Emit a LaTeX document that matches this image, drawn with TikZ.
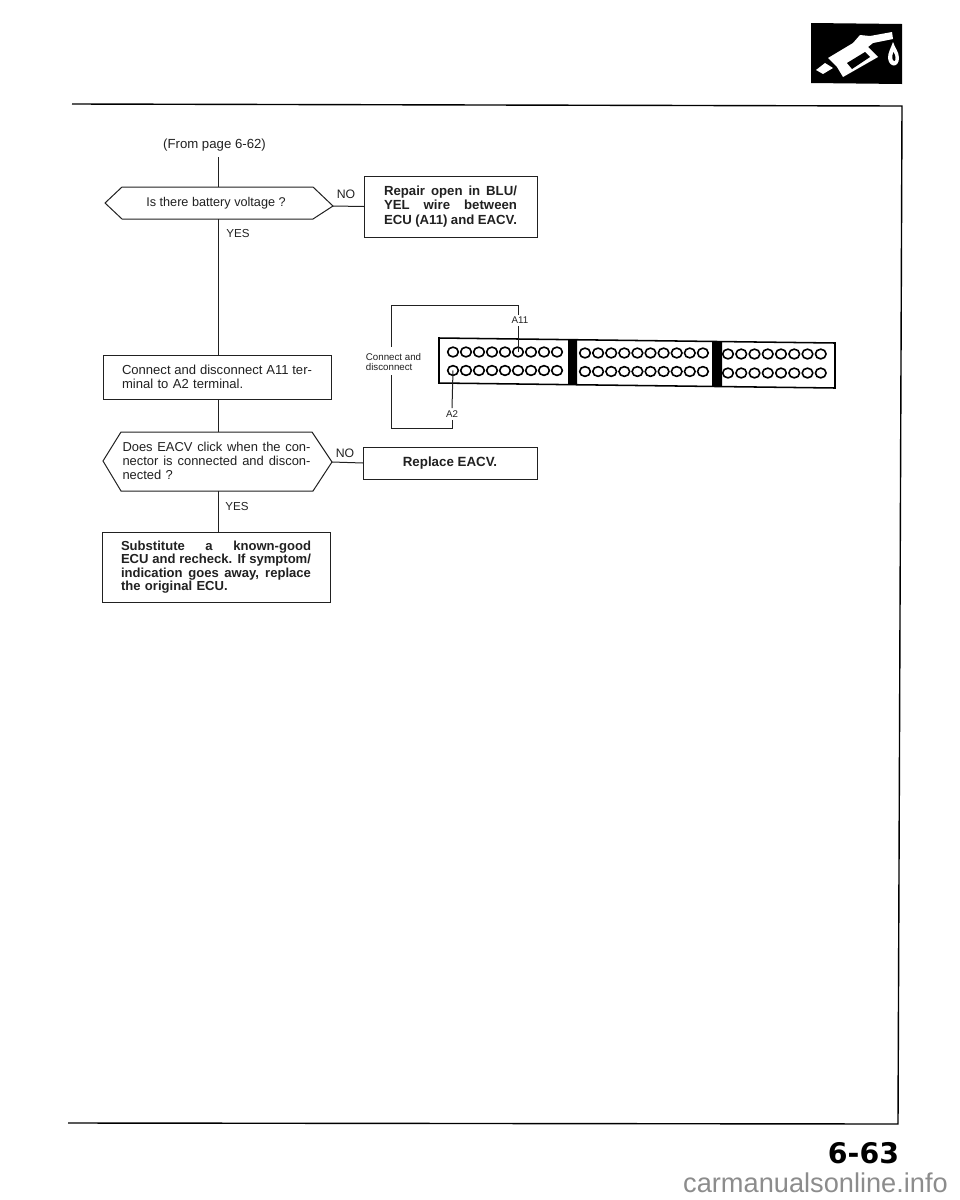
\documentclass[tikz,border=0pt]{standalone}
\usepackage{fontspec}
\usetikzlibrary{shapes.geometric}
\setmainfont{Liberation Sans}
\newfontfamily\pagefont{DejaVu Sans}[BoldFont={DejaVu Sans Bold}]
\newcommand{\jline}[2]{\makebox[#1][s]{\spaceskip=0pt\relax\xspaceskip=0pt\relax #2}}
\definecolor{ink}{gray}{0.13}
\definecolor{mark}{gray}{0.55}
\tikzset{
 every node/.style={inner sep=0pt,outer sep=0pt,text=ink},
 ln/.style={line width=0.75pt,draw=ink},
 bx/.style={draw=ink,line width=0.75pt,fill=white},
 frameline/.style={line width=1.05pt,draw=black},
 lab/.style={font=\fontsize{9.5}{11}\selectfont},
 yeslab/.style={font=\fontsize{8.7}{11}\selectfont},
 nolab/.style={font=\fontsize{9.2}{11}\selectfont},
 tiny/.style={font=\fontsize{7.3}{7.6}\selectfont,align=left},
 pin/.style={draw=black,line width=1.2pt,ellipse,minimum width=8pt,minimum height=7.3pt,fill=white},
 bar/.style={fill=black,draw=none},
 plug/.style={draw=black,line width=1.15pt,fill=white},
}
\begin{document}
\begin{tikzpicture}[x=0.75pt,y=-0.75pt]
\useasboundingbox (0,0) rectangle (960,1200);
% page frame
\draw[frameline] (72,104) -- (902,106) -- (898,1124) -- (68,1123);
% logo
\fill[black] (811,23) -- (902,24) -- (902,84) -- (811,83) -- cycle;
\fill[white] (816,70) -- (825,63) -- (833,68) -- (823,74) -- cycle;
\fill[white] (828,58) -- (853,43) -- (860,35) -- (870,36) -- (892,32) -- (893,39) -- (873,43) -- (868,47) -- (878,57) -- (843,77) -- (837,67) -- cycle;
\fill[black] (847,63) -- (865,52) -- (870,57) -- (852,69) -- cycle;
\fill[white] (893,42) .. controls (891,48) and (888,52) .. (888,58) .. controls (889,68) and (899,68) .. (899,58) .. controls (899,52) and (895,48) .. (893,42) -- cycle;
\fill[black] (893.5,52) .. controls (891.5,56) and (892,61) .. (894.5,61) .. controls (896,60) and (896,56) .. (893.5,52) -- cycle;
% first question
\node[lab,font=\fontsize{9.9}{11}\selectfont] (from) at (214.5,145) {(From page 6-62)};
\coordinate (start) at (218,157);
\coordinate (d1tip) at (333,206);
\coordinate (d1t) at (218,187);
\coordinate (d1b) at (218,219);
\draw[bx] (105,203) -- (122,187) -- (d1t) -- (313,187) -- (d1tip) -- (313,219) -- (d1b) -- (122,219) -- cycle;
\node[lab] (q1) at (216,203.5) {Is there battery voltage ?};
\node[nolab] (no1) at (346,194) {NO};
\node[yeslab] (yes1) at (238,234) {YES};
\node[bx,minimum width=129.75pt,minimum height=45.75pt,
      font=\fontsize{9.9}{10.8}\selectfont\bfseries,text width=99.75pt,align=left] (r1) at (450.5,206.5)
  {\jline{99.75pt}{Repair open in BLU/}\\\jline{99.75pt}{YEL wire between}\\\jline{99.75pt}{ECU (A11) and EACV.}};
\draw[ln] (start) -- (d1t);
\draw[ln] (d1tip) -- (r1.west);
% second step
\node[bx,minimum width=171pt,minimum height=33pt,
      font=\fontsize{9.8}{10.5}\selectfont,text width=142.5pt,align=left] (b2) at (217,377)
  {\jline{142.5pt}{Connect and disconnect A11 ter-}\\minal to A2 terminal.};
\draw[ln] (d1b) -- (b2.north -| d1b);
% second question
\coordinate (d2tip) at (332,462);
\coordinate (d2t) at (218,432);
\coordinate (d2b) at (218,491);
\draw[bx] (103,461) -- (121,432) -- (d2t) -- (312,432) -- (d2tip) -- (313,491) -- (d2b) -- (121,491) -- cycle;
\node[font=\fontsize{9.7}{10.5}\selectfont,text width=141pt,align=left] (q2) at (216.5,461)
  {\jline{141pt}{Does EACV click when the con-}\\\jline{141pt}{nector is connected and discon-}\\nected ?};
\node[nolab] (no2) at (345,453) {NO};
\node[yeslab] (yes2) at (237,506) {YES};
\node[bx,minimum width=130.5pt,minimum height=24pt,font=\fontsize{10}{11}\selectfont\bfseries] (r2) at (450,463) {Replace EACV.};
\draw[ln] (b2.south -| d2t) -- (d2t);
\draw[ln] (d2tip) -- (r2.west);
% final box
\node[bx,minimum width=171pt,minimum height=52.5pt,
      font=\fontsize{9.8}{10}\selectfont\bfseries,text width=142.5pt,align=left] (b3) at (216,567)
  {\jline{142.5pt}{Substitute a known-good}\\\jline{142.5pt}{ECU and recheck. If symptom/}\\\jline{142.5pt}{indication goes away, replace}\\the original ECU.};
\draw[ln] (d2b) -- (b3.north -| d2b);
% connector plug
\draw[plug] (439,338) -- (835,343) -- (835,388) -- (439,383) -- cycle;
\fill[bar] (568,339.6) -- (577,339.8) -- (577,384.9) -- (568,384.7) -- cycle;
\fill[bar] (712,341.4) -- (722,341.6) -- (722,386.7) -- (712,386.5) -- cycle;
\foreach \i in {0,...,8}{
  \node[pin] (ta\i) at ({453+13*\i},352) {};
  \node[pin] (ba\i) at ({453+13*\i},370.5) {};
}
\foreach \i in {0,...,9}{
  \node[pin] (tb\i) at ({585+13.1*\i},353) {};
  \node[pin] (bb\i) at ({585+13.1*\i},371.5) {};
}
\foreach \i in {0,...,7}{
  \node[pin] (tc\i) at ({728+13.25*\i},354) {};
  \node[pin] (bc\i) at ({728+13.25*\i},373) {};
}
% test jumper
\node[tiny] (a11) at (520,320) {A11};
\node[tiny] (a2) at (452,414) {A2};
\node[tiny] (cd) at (393.5,362) {Connect and\\disconnect};
\coordinate (jA) at (518,315);
\coordinate (jB) at (518,305);
\coordinate (jC) at (391,305);
\coordinate (jD) at (391,347);
\coordinate (jE) at (391,375);
\coordinate (jF) at (391,428);
\coordinate (jG) at (452,428);
\coordinate (jH) at (452,420);
\coordinate (jI) at (518,326);
\coordinate (jJ) at (452,408);
\draw[ln] (jI) -- (ta5.center);
\draw[ln] (jA) -- (jB) -- (jC) -- (jD);
\draw[ln] (jE) -- (jF) -- (jG) -- (jH);
\draw[ln] (jJ) -- (ba0.center);
% page number and mark
\node[font=\pagefont\fontsize{21.3}{24}\selectfont\bfseries,text=black] (pg) at (863.5,1153) {6-63};
\node[font=\fontsize{20.4}{24}\selectfont,text=mark] (wm) at (815.5,1183) {carmanualsonline.info};
\end{tikzpicture}
\end{document}
